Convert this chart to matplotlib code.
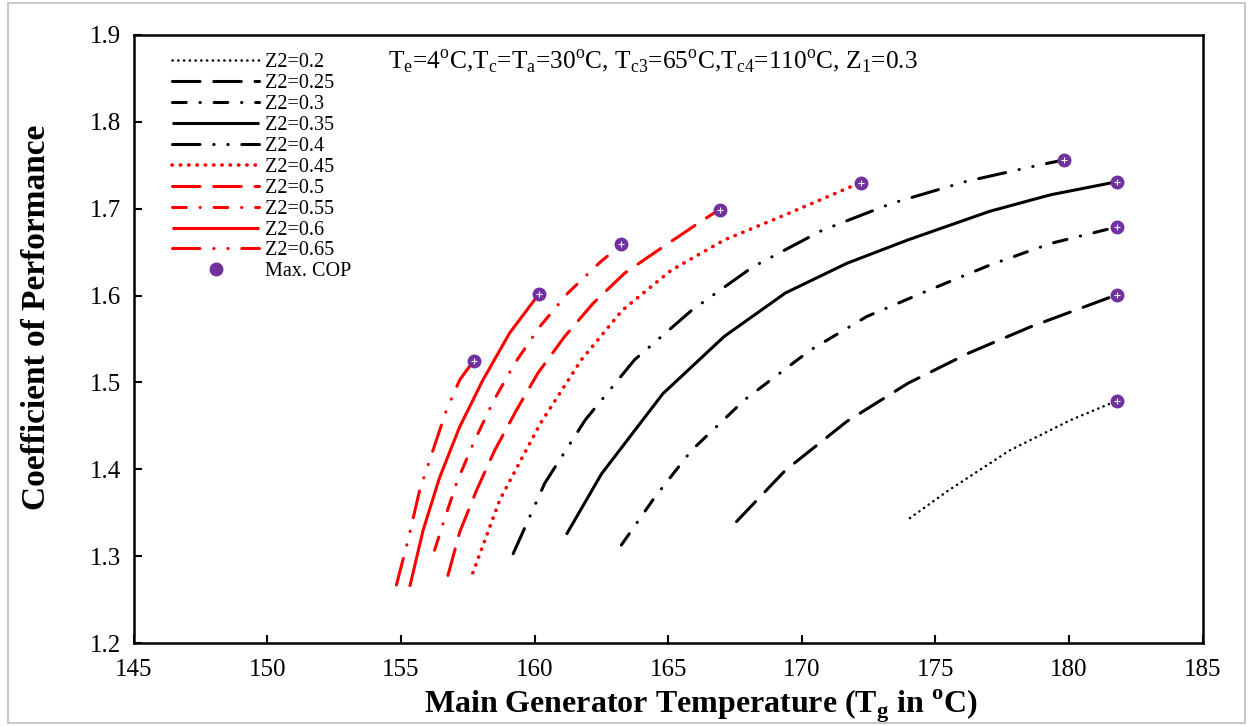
import numpy as np
import matplotlib
matplotlib.use("Agg")
import matplotlib.pyplot as plt
from matplotlib.patches import Rectangle

plt.rcParams['font.family'] = ['Liberation Serif', 'DejaVu Serif']
plt.rcParams['mathtext.fontset'] = 'custom'
plt.rcParams['mathtext.rm'] = 'Liberation Serif'
plt.rcParams['mathtext.bf'] = 'Liberation Serif:bold'

# data (Tg in degC, COP)
z2_labels = ['Z2=0.2', 'Z2=0.25', 'Z2=0.3', 'Z2=0.35', 'Z2=0.4',
             'Z2=0.45', 'Z2=0.5', 'Z2=0.55', 'Z2=0.6', 'Z2=0.65']

tg_02 = [174.05, 175.50, 177.79, 180.08, 181.8]
cop_02 = [1.344, 1.376, 1.422, 1.457, 1.479]

tg_025 = [167.56, 169.39, 171.68, 173.97, 176.26, 178.56, 181.8]
cop_025 = [1.340, 1.399, 1.455, 1.499, 1.534, 1.564, 1.601]

tg_03 = [163.25, 164.50, 165.88, 167.86, 170.31, 172.44, 174.74, 177.03, 179.32, 181.8]
cop_03 = [1.313, 1.368, 1.422, 1.480, 1.537, 1.576, 1.606, 1.635, 1.660, 1.679]

tg_035 = [161.19, 162.51, 164.80, 167.10, 169.39, 171.68, 173.97, 177.04, 179.32, 181.8]
cop_035 = [1.325, 1.395, 1.487, 1.553, 1.603, 1.637, 1.664, 1.697, 1.716, 1.731]

tg_04 = [159.20, 160.38, 161.90, 163.74, 165.88, 168.17, 170.76, 173.36, 176.11, 178.86, 179.8]
cop_04 = [1.303, 1.384, 1.457, 1.526, 1.583, 1.633, 1.675, 1.706, 1.731, 1.750, 1.756]

tg_045 = [157.69, 158.70, 160.22, 161.75, 163.28, 165.11, 167.10, 169.39, 172.2]
cop_045 = [1.281, 1.365, 1.453, 1.526, 1.583, 1.629, 1.664, 1.693, 1.730]

tg_05 = [156.76, 157.20, 157.83, 158.51, 159.32, 160.13, 161.13, 162.19, 163.38, 164.81, 166.31, 166.93]
cop_05 = [1.278, 1.328, 1.376, 1.422, 1.468, 1.511, 1.553, 1.591, 1.626, 1.656, 1.687, 1.699]

tg_055 = [156.26, 156.58, 157.10, 157.74, 158.45, 159.26, 160.19, 161.25, 162.44, 163.25]
cop_055 = [1.307, 1.338, 1.386, 1.432, 1.478, 1.522, 1.564, 1.603, 1.638, 1.659]

tg_06 = [155.33, 155.83, 156.45, 157.20, 158.07, 159.07, 160.17]
cop_06 = [1.265, 1.330, 1.391, 1.449, 1.503, 1.557, 1.602]

tg_065 = [154.83, 155.27, 155.70, 156.20, 156.70, 157.20, 157.72]
cop_065 = [1.267, 1.319, 1.376, 1.422, 1.468, 1.503, 1.525]

tg_max = [181.8, 181.8, 181.8, 181.8, 179.8, 172.2, 166.93, 163.25, 160.17, 157.72]
cop_max = [1.479, 1.601, 1.679, 1.731, 1.756, 1.730, 1.699, 1.659, 1.602, 1.525]

series = [(tg_02, cop_02), (tg_025, cop_025), (tg_03, cop_03), (tg_035, cop_035),
          (tg_04, cop_04), (tg_045, cop_045), (tg_05, cop_05), (tg_055, cop_055),
          (tg_06, cop_06), (tg_065, cop_065)]

dotted = (0, (0.1, 2.2))
longdash = (0, (9, 4.5))
dashdot = (0, (4.5, 4.5, 0.1, 4.5))
dashdotdot = (0, (9, 4.5, 0.1, 4.5, 0.1, 4.5))
styles = [dotted, longdash, dashdot, 'solid', dashdotdot] * 2
colors = ['black'] * 5 + ['#ff0000'] * 5

fig = plt.figure(figsize=(12.5, 7.26), dpi=100)
ax = fig.add_axes([0.107, 0.114, 0.855, 0.838])

for i, (x, y) in enumerate(series):
    lw = 2.2
    if styles[i] == dotted:
        lw = 1.8 if colors[i] == 'black' else 2.6
    ax.plot(x, y, color=colors[i], ls=styles[i], lw=lw,
            dash_capstyle='round', solid_capstyle='butt', solid_joinstyle='round',
            label=z2_labels[i])

ax.plot(tg_max, cop_max, ls='none', marker='o', ms=9, mfc='#7030A0',
        mec='#7030A0', label='Max. COP', zorder=5)
ax.plot(tg_max, cop_max, ls='none', marker='+', ms=4, mew=0.8, color='white', zorder=6)

ax.set_xlim(145, 185)
ax.set_ylim(1.2, 1.9)
ax.set_xticks(np.arange(145, 186, 5))
ax.set_yticks(np.arange(1.2, 1.91, 0.1))
ax.yaxis.set_major_formatter(matplotlib.ticker.FormatStrFormatter('%.1f'))
ax.tick_params(direction='in', length=6, width=1.5, labelsize=18, pad=11)
ax.tick_params(axis='y', pad=9)
for s in ax.spines.values():
    s.set_linewidth(1.8)

ax.set_xlabel('Main Generator Temperature (T$_\\mathbf{g}$ in $^\\mathbf{o}$C)',
              fontsize=23, fontweight='bold')
ax.xaxis.label.set_va('center')
ax.xaxis.set_label_coords(0.531, -0.103)
ax.set_ylabel('Coefficient of Performance', fontsize=24, fontweight='bold')
ax.yaxis.label.set_va('center')
ax.yaxis.set_label_coords(-0.091, 0.535)

ax.text(0.238, 0.955,
        'T$_\\mathrm{e}$=4$^\\mathrm{o}$C,T$_\\mathrm{c}$=T$_\\mathrm{a}$=30$^\\mathrm{o}$C, '
        'T$_\\mathrm{c3}$=65$^\\mathrm{o}$C,T$_\\mathrm{c4}$=110$^\\mathrm{o}$C, Z$_\\mathrm{1}$=0.3',
        transform=ax.transAxes, fontsize=18.3, va='center', ha='left')

leg = ax.legend(loc='upper left', bbox_to_anchor=(0.023, 0.993), frameon=False,
                fontsize=14.5, handlelength=4.3, handletextpad=0.3,
                labelspacing=0.09, borderaxespad=0.3)

fig.patches.append(Rectangle((0.006, 0.004), 0.99, 0.992, transform=fig.transFigure,
                             fill=False, edgecolor='#c8c8c8', lw=1.5))

fig.savefig('out.png', dpi=100)
